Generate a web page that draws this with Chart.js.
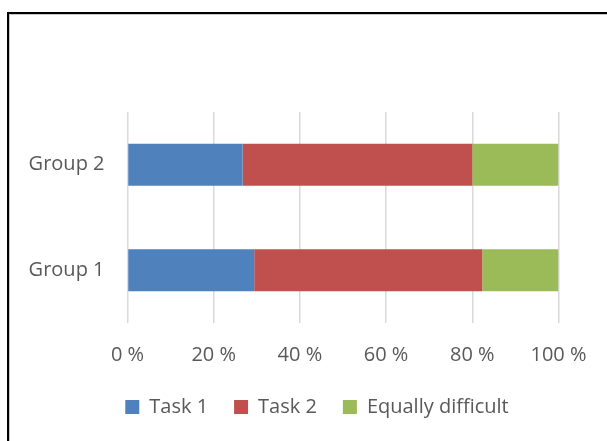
<!DOCTYPE html>
<html>
<head>
<meta charset="utf-8">
<script src="https://cdn.jsdelivr.net/npm/chart.js@4/dist/chart.umd.min.js"></script>
<style>
  html, body { margin: 0; padding: 0; background: #fff; overflow: hidden; }
  #wrap { position: relative; width: 607px; height: 441px; }
  #frame { position: absolute; left: 7px; top: 12px; width: 700px; height: 500px;
           border-left: 2px solid #000; border-top: 2px solid #000;
           box-shadow: inset 1px 1px 0 #c8c8c8; pointer-events: none; }
  canvas { position: absolute; left: 0; top: 0; }
</style>
</head>
<body>
<div id="wrap">
  <canvas id="c" width="607" height="441"></canvas>
  <div id="frame"></div>
</div>
<script>
const categories = ["Group 1", "Group 2"];
const task1 = [29.4, 26.7];
const task2 = [52.9, 53.3];
const equallyDifficult = [17.7, 20.0];
const seriesNames = ["Task 1", "Task 2", "Equally difficult"];
const tickValues = [0, 20, 40, 60, 80, 100];

const textColor = "#595959";
const font = { family: "'Open Sans', sans-serif", size: 20 };

const legendShift = {
  id: "legendShift",
  afterLayout(chart) {
    const lg = chart.legend;
    if (lg) { lg.left = 75.5; lg.right = chart.chartArea.right; lg.width = lg.right - lg.left; }
  }
};

new Chart(document.getElementById("c"), {
  type: "bar",
  data: {
    labels: categories,
    datasets: [
      { label: seriesNames[0], data: task1, backgroundColor: "#4F81BD" },
      { label: seriesNames[1], data: task2, backgroundColor: "#C0504D" },
      { label: seriesNames[2], data: equallyDifficult, backgroundColor: "#9BBB59" }
    ]
  },
  plugins: [legendShift],
  options: {
    indexAxis: "y",
    responsive: false,
    animation: false,
    devicePixelRatio: 1,
    datasets: { bar: { barPercentage: 0.4, categoryPercentage: 1.0 } },
    layout: { padding: { top: 112, right: 48.5, left: 0, bottom: 14 } },
    scales: {
      x: {
        stacked: true,
        min: 0, max: 100,
        afterBuildTicks: (s) => { s.ticks = tickValues.map(v => ({ value: v })); },
        afterFit: (s) => { s.height = 48; },
        ticks: { color: textColor, font: font, padding: 20,
                 callback: (v) => v + " %" },
        grid: { color: "#d9d9d9", lineWidth: 1.5, drawTicks: false },
        border: { display: false }
      },
      y: {
        stacked: true,
        reverse: true,
        afterFit: (s) => { s.width = 127.5; },
        ticks: { color: textColor, font: font, padding: 23 },
        grid: { display: false, drawTicks: false },
        border: { display: false }
      }
    },
    plugins: {
      legend: {
        position: "bottom",
        labels: { color: textColor, font: font, boxWidth: 14, boxHeight: 14, padding: 26 }
      },
      tooltip: { enabled: false }
    }
  }
});
</script>
</body>
</html>
